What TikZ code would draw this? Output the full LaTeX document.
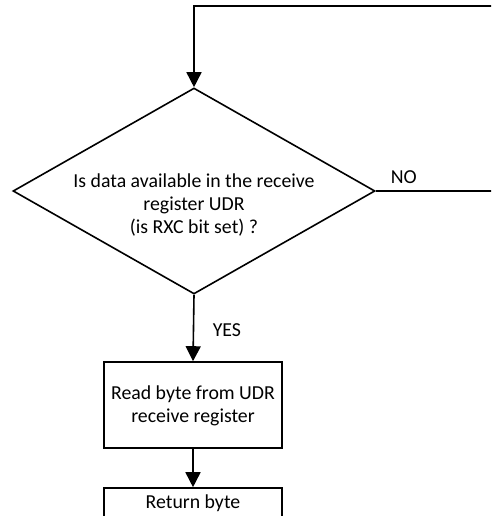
\documentclass[tikz,border=0pt]{standalone}
\usepackage{fontspec}
\setmainfont{Carlito}
\usetikzlibrary{arrows.meta,shapes.geometric}
\begin{document}
\begin{tikzpicture}[x=1pt,y=-1pt,
  line width=1.6pt,
  txt/.style={font=\fontsize{19.8}{23.3}\selectfont, align=center, inner sep=0pt},
  decision/.style={draw, diamond, minimum width=362pt, minimum height=206pt, inner sep=0pt},
  procbox/.style={draw, rectangle, minimum width=178pt, inner sep=0pt},
  arr/.style={-{Triangle[width=15pt,length=15pt]}}
]
\useasboundingbox (0,0) rectangle (491,516);
\clip (0,0) rectangle (491,516);
\node[decision] (dec) at (194,191) {};
\node[txt] (dectxt) at (194,205) {Is data available in the receive\\register UDR\\(is RXC bit set) ?};
\node[procbox, minimum height=86pt] (read) at (193,405) {};
\node[txt] (readtxt) at (193,406) {Read byte from UDR\\receive register};
\node[procbox, minimum height=31pt] (ret) at (193,503.5) {};
\node[txt] (rettxt) at (193,503) {Return byte};
\coordinate (loopR) at (500,191);
\coordinate (loopT) at (500,6);
\coordinate (loopL) at (dec.north |- loopT);
\draw[arr] (dec.east) -- (loopR) -- (loopT) -- (loopL) -- (dec.north);
\draw[arr] (dec.south) -- (read.north);
\draw[arr] (read.south) -- (ret.north);
\node[txt, anchor=west] (no) at (390,177) {NO};
\node[txt, anchor=west] (yes) at (212,330) {YES};
\end{tikzpicture}
\end{document}
